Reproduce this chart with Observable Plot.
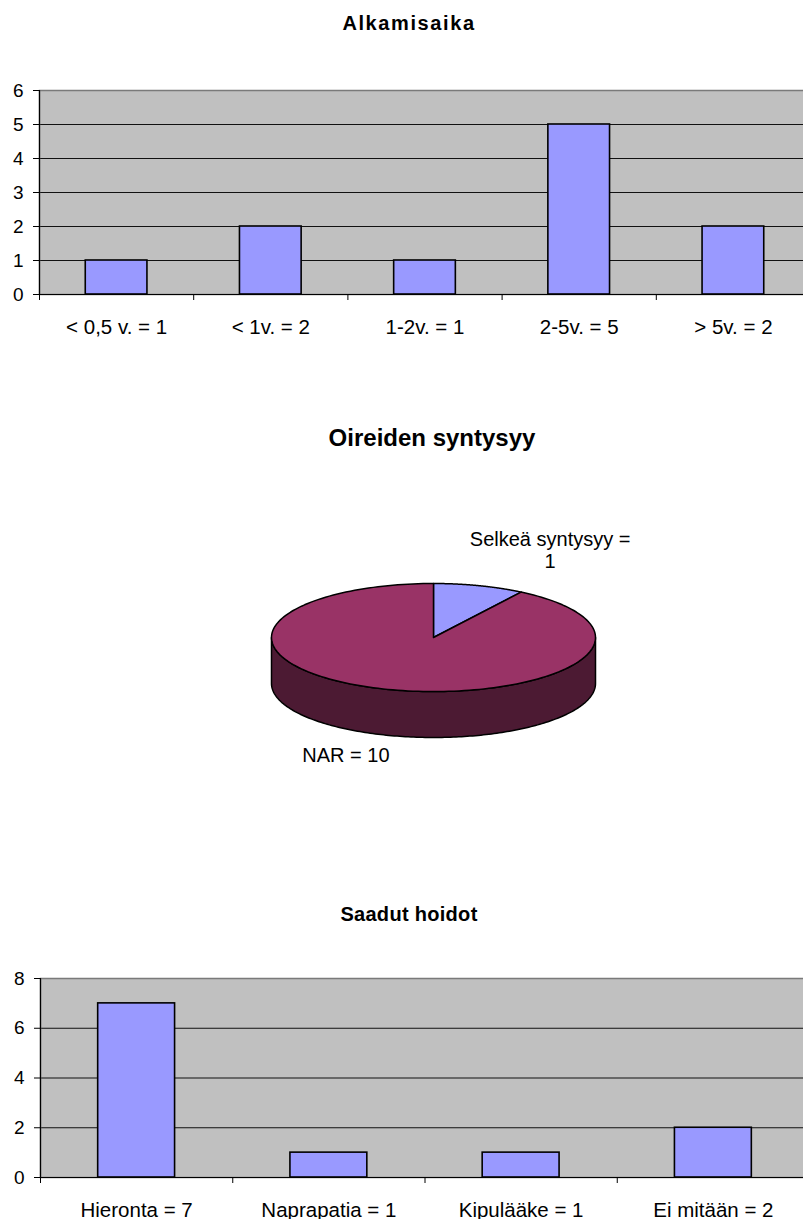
<!DOCTYPE html>
<html>
<head>
<meta charset="utf-8">
<script src="https://cdn.jsdelivr.net/npm/d3@7"></script>
<script src="https://cdn.jsdelivr.net/npm/@observablehq/plot@0.6"></script>
<style>
  html, body { margin: 0; padding: 0; background: #fff; overflow: hidden; }
  #root { position: relative; width: 803px; height: 1219px; font-family: "Liberation Sans", Arial, sans-serif; }
  .title { position: absolute; text-align: center; font-weight: bold; line-height: 30px; color: #000; white-space: nowrap; }
  .chart { position: absolute; left: 0; }
  .chart svg { overflow: visible; }
</style>
</head>
<body>
<div id="root"></div>
<script>
// ---------- data ----------
const onsetTitle = "Alkamisaika";
const onsetCategories = ["< 0,5 v. = 1", "< 1v. = 2", "1-2v. = 1", "2-5v. = 5", "> 5v. = 2"];
const onsetValues = [1, 2, 1, 5, 2];
const onsetTicks = [0, 1, 2, 3, 4, 5, 6];

const causeTitle = "Oireiden syntysyy";
const causeLabels = ["Selkeä syntysyy =\n1", "NAR = 10"];
const causeValues = [1, 10];

const careTitle = "Saadut hoidot";
const careCategories = ["Hieronta = 7", "Naprapatia = 1", "Kipulääke = 1", "Ei mitään = 2"];
const careValues = [7, 1, 1, 2];
const careTicks = [0, 2, 4, 6, 8];

// ---------- styles ----------
const FONT = "'Liberation Sans', Arial, sans-serif";
const BAR_FILL = "#9999ff";
const PLOT_BG = "#c0c0c0";
const sliceColors = ["#9999ff", "#993366"];
const sideColors = ["#4d4d80", "#4c1a33"];

const root = document.getElementById("root");

function addTitle(text, top, centerX, size, spacing) {
  const d = document.createElement("div");
  d.className = "title";
  d.textContent = text;
  d.style.top = top + "px";
  d.style.left = (centerX - 300) + "px";
  d.style.width = "600px";
  d.style.fontSize = size + "px";
  if (spacing) d.style.letterSpacing = spacing + "px";
  root.appendChild(d);
}

function barChart({cats, values, ticks, top, height, ml, mr, mt, mb}) {
  const rows = cats.map((c, i) => ({i, c, v: values[i]}));
  const n = cats.length;
  const svg = Plot.plot({
    width: 803, height,
    marginLeft: ml, marginRight: mr, marginTop: mt, marginBottom: mb,
    style: {fontFamily: FONT, background: "transparent", color: "#000", overflow: "visible"},
    x: {domain: [0, n], label: null},
    y: {domain: [0, d3.max(ticks)], label: null},
    marks: [
      Plot.frame({fill: PLOT_BG}),
      Plot.ruleY(ticks.filter(t => t > 0 && t < d3.max(ticks)), {stroke: "#111", strokeWidth: 1}),
      Plot.frame({stroke: "#7a7a7a", strokeWidth: 1.5}),
      Plot.rect(rows, {x1: d => d.i + 0.3, x2: d => d.i + 0.7, y1: 0, y2: "v", fill: BAR_FILL, stroke: "#000", strokeWidth: 1.6}),
      Plot.ruleY([0], {stroke: "#000", strokeWidth: 1.2}),
      Plot.ruleX([0], {stroke: "#000", strokeWidth: 1.2}),
      Plot.axisY({ticks, tickSize: 6, tickPadding: 10, fontSize: 19, stroke: "#000", label: null,
                  tickFormat: d3.format("d")}),
      Plot.axisX({ticks: d3.range(n + 1), tickSize: 6, tickFormat: () => "", stroke: "#000", label: null}),
      Plot.axisX({ticks: d3.range(n).map(i => i + 0.5), tickSize: 0, tickPadding: 25, fontSize: 20.5, label: null,
                  tickFormat: v => cats[Math.floor(v)]})
    ]
  });
  const wrap = document.createElement("div");
  wrap.className = "chart";
  wrap.style.top = top + "px";
  wrap.appendChild(svg);
  root.appendChild(wrap);
}

function pieChart({labels, values, top}) {
  const depth = 0.85;
  const arcs = d3.pie().sort(null).value(d => d)(values);
  const steps = 180;
  const arcPts = (a0, a1, dy = 0) =>
    d3.range(steps + 1).map(k => {
      const a = a0 + (a1 - a0) * k / steps;
      return {x: Math.sin(a), y: Math.cos(a) - dy};
    });
  const marks = [];
  // side walls (front half only: angles between PI/2 and 3PI/2)
  arcs.forEach((a, i) => {
    const s0 = Math.max(a.startAngle, Math.PI / 2), s1 = Math.min(a.endAngle, 3 * Math.PI / 2);
    if (s1 > s0) {
      const pts = [...arcPts(s0, s1), ...arcPts(s0, s1, depth).reverse()];
      pts.push(pts[0]);
      marks.push(Plot.line(pts, {x: "x", y: "y", fill: sideColors[i], stroke: "#000", strokeWidth: 1.5, curve: "linear"}));
    }
  });
  // top face slices
  arcs.forEach((a, i) => {
    const pts = [{x: 0, y: 0}, ...arcPts(a.startAngle, a.endAngle), {x: 0, y: 0}];
    marks.push(Plot.line(pts, {x: "x", y: "y", fill: sliceColors[i], stroke: "#000", strokeWidth: 1.5, curve: "linear"}));
  });
  // labels near slice mid-angle
  const labelOffsets = [[71, -36], [-42, 65]];
  arcs.forEach((a, i) => {
    const m = (a.startAngle + a.endAngle) / 2;
    marks.push(Plot.text([{x: Math.sin(m), y: Math.cos(m), t: labels[i]}], {
      x: "x", y: "y", text: "t", dx: labelOffsets[i][0], dy: labelOffsets[i][1],
      fontSize: 20, fill: "#000", textAnchor: "middle", lineAnchor: "middle", lineHeight: 1.13
    }));
  });
  const svg = Plot.plot({
    width: 803, height: 280,
    marginLeft: 271, marginRight: 208, marginTop: 83, marginBottom: 43,
    style: {fontFamily: FONT, background: "transparent", color: "#000", overflow: "visible"},
    x: {domain: [-1, 1], axis: null},
    y: {domain: [-1 - depth, 1], axis: null},
    marks
  });
  const wrap = document.createElement("div");
  wrap.className = "chart";
  wrap.style.top = top + "px";
  wrap.appendChild(svg);
  root.appendChild(wrap);
}

addTitle(onsetTitle, 8, 409, 20, 1.6);
barChart({cats: onsetCategories, values: onsetValues, ticks: onsetTicks,
          top: 70, height: 270, ml: 39, mr: -7, mt: 20, mb: 46});

addTitle(causeTitle, 423, 432, 24, 0);
pieChart({labels: causeLabels, values: causeValues, top: 500});

addTitle(careTitle, 899, 409, 20, 0.3);
barChart({cats: careCategories, values: careValues, ticks: careTicks,
          top: 940, height: 279, ml: 40, mr: -6, mt: 38, mb: 42});
</script>
</body>
</html>
